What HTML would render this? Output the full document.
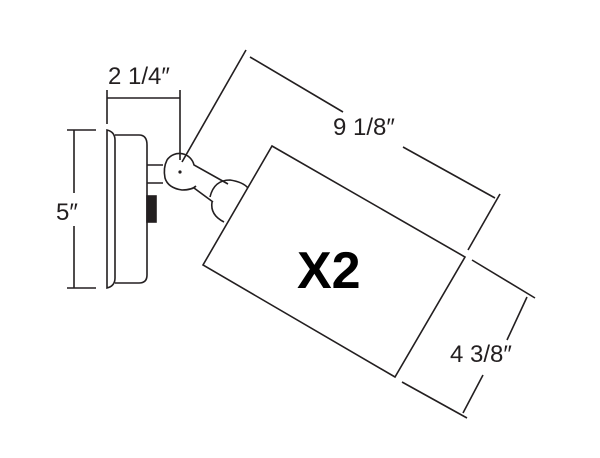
<!DOCTYPE html>
<html><head><style>body{margin:0;background:#fff}svg{display:block}text{font-family:"Liberation Sans",sans-serif;fill:#231f20}</style></head><body>
<svg width="600" height="458" viewBox="0 0 600 458" fill="none" stroke="#231f20" stroke-width="1.6">
<text x="108" y="84" font-size="24" stroke="none">2 1/4″</text>
<line x1="107" y1="98" x2="180" y2="98"/>
<line x1="107" y1="90" x2="107" y2="124"/>
<line x1="180" y1="90" x2="180" y2="160"/>
<line x1="67" y1="130" x2="96" y2="130"/>
<line x1="67" y1="288" x2="96" y2="288"/>
<line x1="74" y1="130" x2="74" y2="193"/>
<line x1="74" y1="226" x2="74" y2="288"/>
<text x="56" y="220" font-size="24" stroke="none">5″</text>
<path d="M107 130 Q115 132 115 140 L115 278 Q115 286 107 288 Z"/>
<path d="M115 135 L139 135 Q147 135 147 145 L147 275 Q147 283 139 283 L115 283"/>
<rect x="147" y="196" width="9" height="26" fill="#231f20"/>
<path d="M147 165 L163 165 M147 183 L163 183"/>
<path d="M167 160 A15 15 0 0 1 194 165 L228 184 M196 186 Q192 190 182 190 Q168 188 165 178 Q163 168 167 160 M194 188 L213 202"/>
<path d="M210 197 Q214 180 230 180 Q243 182 248 188 M212 202 Q210 215 224 222"/>
<circle cx="180" cy="172" r="0.8" fill="#231f20"/>
<line x1="246" y1="50" x2="182" y2="162"/>
<line x1="250" y1="57" x2="343" y2="112"/>
<line x1="403" y1="147" x2="495" y2="198"/>
<line x1="500" y1="194" x2="468" y2="250"/>
<text x="333" y="135" font-size="24" stroke="none">9 1/8″</text>
<polygon points="272,146 465,257 395,377 203,265"/>
<text x="297" y="288" font-size="52" font-weight="bold" stroke="none" style="fill:#000">X2</text>
<line x1="472" y1="260" x2="535" y2="298"/>
<line x1="402" y1="382" x2="467" y2="418"/>
<line x1="527" y1="297" x2="507" y2="340"/>
<line x1="483" y1="375" x2="463" y2="413"/>
<text x="450" y="362" font-size="24" stroke="none">4 3/8″</text>
</svg>
</body></html>
